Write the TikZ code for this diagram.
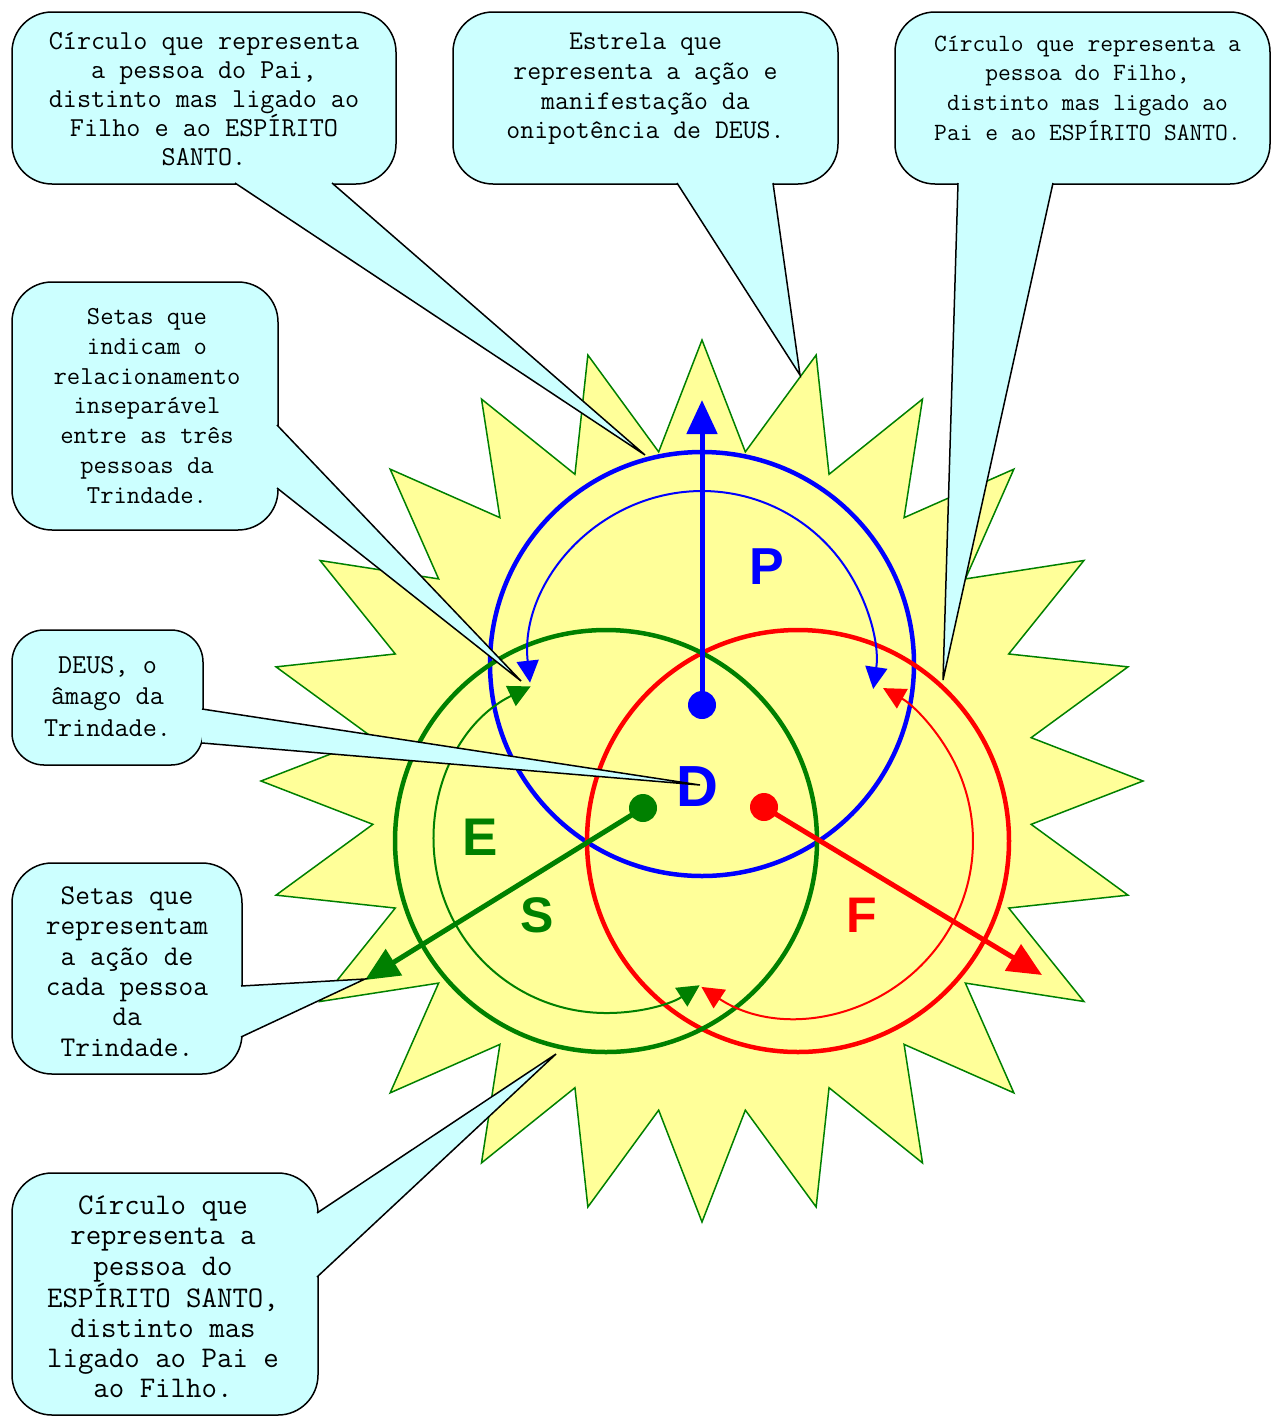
\documentclass[tikz,border=0pt]{standalone}
\usepackage{fontspec}
\usepackage{tikz}
\usetikzlibrary{arrows.meta,calc}
\newfontfamily\arialfont{Liberation Sans}
\definecolor{sunyellow}{HTML}{FFFF99}
\definecolor{bubblecyan}{HTML}{CCFFFF}
\definecolor{spgreen}{HTML}{008000}
\newcommand{\monosize}[2]{\ttfamily\fontsize{#1}{#2}\selectfont}
\tikzset{
    sunstar/.style={draw=spgreen, fill=sunyellow, line width=1.5pt},
    person/.style={line width=4.5pt},
    relation/.style={line width=2pt, {Triangle[length=22pt,width=22pt]}-{Triangle[length=22pt,width=22pt]}},
    action/.style={line width=5pt, -{Triangle[length=34pt,width=30pt]}},
    dot/.style={circle, inner sep=0pt, minimum size=28pt},
    letter/.style={font=\arialfont\bfseries\fontsize{#1}{#1}\selectfont},
    letter/.default=52,
    bubble/.style={draw=black, fill=bubblecyan, line width=1.5pt, rounded corners=40pt, inner sep=0pt, outer sep=0pt},
    bubbletext/.style={align=center, inner sep=0pt},
    pointer/.style={draw=black, fill=bubblecyan, line width=1.5pt},
}

\begin{document}
\begin{tikzpicture}[x=1pt, y=-1pt]
    \useasboundingbox (0,0) rectangle (1271,1417);
    % centres:
    \coordinate (sun) at (702,781);
    \coordinate (pcenter) at (702,664);
    \coordinate (ecenter) at (606,841);
    \coordinate (fcenter) at (798,841);
    % star:
    \filldraw[sunstar] ($(sun)+(0:441)$) \foreach \k in {0,...,23} { -- ($(sun)+({\k*15+7.5}:332)$) -- ($(sun)+({\k*15+15}:441)$) } -- cycle;
    % circles:
    \draw[person, blue] (pcenter) circle[radius=212];
    \draw[person, red] (fcenter) circle[radius=211];
    \draw[person, spgreen] (ecenter) circle[radius=211];
    % relation arrows:
    \draw[relation, blue] ($(pcenter)+(-186.2:173)$) arc[start angle=-186.2, end angle=8.3, radius=173];
    \draw[relation, spgreen] ($(ecenter)+(-116:172)$) arc[start angle=-116, end angle=-303, radius=172];
    \draw[relation, red] ($(fcenter)+(-236.5:175)$) arc[start angle=-236.5, end angle=-420.9, radius=175];
    % action arrows:
    \coordinate (ptip) at (702,400);
    \coordinate (etip) at (365,980);
    \coordinate (ftip) at (1042,975);
    \node[dot, fill=blue] (pdot) at (702,705) {};
    \node[dot, fill=spgreen] (edot) at (643,808) {};
    \node[dot, fill=red] (fdot) at (764,807) {};
    \draw[action, blue] (pdot.center) -- (ptip);
    \draw[action, spgreen] (edot.center) -- (etip);
    \draw[action, red] (fdot.center) -- (ftip);
    % letters:
    \node[letter, blue] (plabel) at (767,567) {P};
    \node[letter=58, blue] (dlabel) at (697,787) {D};
    \node[letter=53, spgreen] (elabel) at (480,837) {E};
    \node[letter=50, spgreen] (slabel) at (537,915) {S};
    \node[letter=50, red] (flabel) at (862,915) {F};
    % callouts:
    \node[bubble, minimum width=384pt, minimum height=172pt] (pai) at (204,98) {};
    \node[bubbletext, font=\monosize{27.4}{29}] (paitxt) at ($(pai)+(0,1)$) {Círculo que representa\\a pessoa do Pai,\\distinto mas ligado ao\\Filho e ao ESPÍRITO\\SANTO.};
    \coordinate (paitip) at (645,455);
    \filldraw[pointer] ($(pai.south west)+(223,-1)$) -- (paitip) -- ($(pai.south west)+(320,-1)$);

    \node[bubble, minimum width=385pt, minimum height=172pt] (estrela) at (645.5,98) {};
    \node[bubbletext, font=\monosize{27}{29.7}] (estrelatxt) at ($(estrela)+(0,-9)$) {Estrela que\\representa a ação e\\manifestação da\\onipotência de DEUS.};
    \coordinate (estrelatip) at (800,375);
    \filldraw[pointer] ($(estrela.south west)+(224,-1)$) -- (estrelatip) -- ($(estrela.south west)+(320,-1)$);

    \node[bubble, minimum width=375pt, minimum height=172pt] (filho) at (1082.5,98) {};
    \node[bubbletext, font=\monosize{24.8}{29.7}] (filhotxt) at ($(filho)+(5,-10)$) {Círculo que representa a\\pessoa do Filho,\\distinto mas ligado ao\\Pai e ao ESPÍRITO SANTO.};
    \coordinate (filhotip) at (943,680);
    \filldraw[pointer] ($(filho.south west)+(63,-1)$) -- (filhotip) -- ($(filho.south west)+(158,-1)$);

    \node[bubble, minimum width=266pt, minimum height=248pt] (setasrel) at (145,406) {};
    \node[bubbletext, font=\monosize{25.9}{29.8}] (setasreltxt) at ($(setasrel)+(2,0)$) {Setas que\\indicam o\\relacionamento\\inseparável\\entre as três\\pessoas da\\Trindade.};
    \coordinate (setasreltip) at (521,681);
    \filldraw[pointer] ($(setasrel.north east)+(-1,143)$) -- (setasreltip) -- ($(setasrel.north east)+(-1,206)$);

    \node[bubble, rounded corners=32pt, minimum width=191pt, minimum height=135pt] (deus) at (107.5,697.5) {};
    \node[bubbletext, font=\monosize{27.4}{31.5}] (deustxt) at ($(deus)+(0,-1)$) {DEUS, o\\âmago da\\Trindade.};
    \coordinate (deustip) at (700,785);
    \filldraw[pointer] ($(deus.north east)+(-1,79)$) -- (deustip) -- ($(deus.north east)+(-1,113)$);

    \node[bubble, minimum width=230pt, minimum height=211pt] (setasacao) at (127,968.5) {};
    \node[bubbletext, font=\monosize{28.6}{30.4}] (setasacaotxt) at ($(setasacao)+(0,3)$) {Setas que\\representam\\a ação de\\cada pessoa\\da\\Trindade.};
    \coordinate (setasacaotip) at (365,979);
    \filldraw[pointer] ($(setasacao.north east)+(-1,123)$) -- (setasacaotip) -- ($(setasacao.north east)+(-1,174)$);

    \node[bubble, minimum width=306pt, minimum height=242pt] (espirito) at (165,1294) {};
    \node[bubbletext, font=\monosize{30}{30.2}] (espiritotxt) at ($(espirito)+(-2,3)$) {Círculo que\\representa a\\pessoa do\\ESPÍRITO SANTO,\\distinto mas\\ligado ao Pai e\\ao Filho.};
    \coordinate (espiritotip) at (556,1054);
    \filldraw[pointer] ($(espirito.north east)+(-1,40)$) -- (espiritotip) -- ($(espirito.north east)+(-1,104)$);
\end{tikzpicture}
\end{document}
